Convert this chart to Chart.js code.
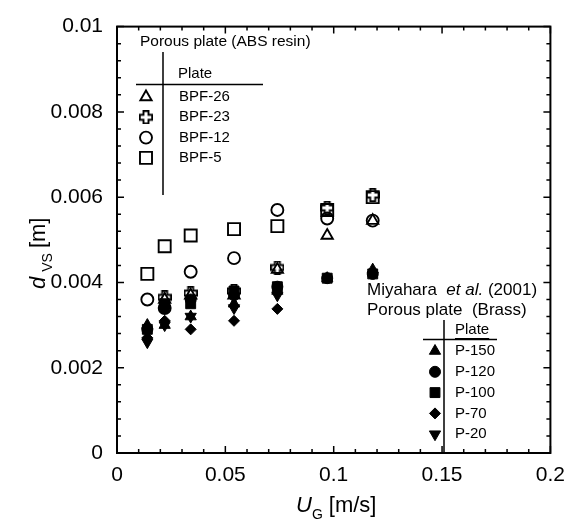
<!DOCTYPE html>
<html>
<head>
<meta charset="utf-8">
<script src="https://cdn.jsdelivr.net/npm/chart.js@4.4.0/dist/chart.umd.min.js"></script>
<style>
html,body{margin:0;padding:0;background:#fff;}
#wrap{width:575px;height:527px;position:relative;}
</style>
</head>
<body>
<div id="wrap"><canvas id="myChart"></canvas></div>
<script>
// gas velocity columns [m/s]
const ugValues = [0.014, 0.022, 0.034, 0.054, 0.074, 0.097, 0.118];

// porous plate (ABS resin), d_VS [m]
const bpf26 = [null, 0.0036, 0.0037, 0.0037, 0.0043, 0.0051, 0.00545];
const bpf23 = [null, 0.00365, 0.00375, 0.0038, 0.00435, 0.00575, 0.00605];
const bpf12 = [0.0036, 0.0034, 0.00425, 0.00457, 0.0057, 0.0055, 0.00545];
const bpf5 = [0.0042, 0.00485, 0.0051, 0.00525, 0.00532, 0.0057, 0.006];

// Miyahara et al. (2001), porous plate (Brass)
const p150 = [0.0030, 0.0030, 0.0032, 0.0035, 0.0038, 0.0041, 0.0043];
const p120 = [0.0029, 0.0034, 0.0036, 0.0037, 0.0039, 0.0041, 0.0042];
const p100 = [0.0029, 0.0035, 0.0035, 0.0038, 0.0039, 0.0041, 0.0042];
const p70 = [0.0027, 0.0031, 0.0029, 0.0031, 0.00338, null, null];
const p20 = [0.0026, 0.0030, 0.0032, 0.0034, 0.0037, null, null];

const absLabels = ['BPF-26', 'BPF-23', 'BPF-12', 'BPF-5'];
const brassLabels = ['P-150', 'P-120', 'P-100', 'P-70', 'P-20'];

const xTicks = [0, 0.05, 0.1, 0.15, 0.2];
const yTicks = [0, 0.002, 0.004, 0.006, 0.008, 0.01];

// outlined plus marker (no such style in chart.js)
function plusMarker(){
    const c = document.createElement('canvas');
    c.width = 14; c.height = 14;
    const g = c.getContext('2d');
    const a = 2.5, b = 6.2, m = 7;
    g.beginPath();
    g.moveTo(m-a, m-b); g.lineTo(m+a, m-b); g.lineTo(m+a, m-a); g.lineTo(m+b, m-a);
    g.lineTo(m+b, m+a); g.lineTo(m+a, m+a); g.lineTo(m+a, m+b); g.lineTo(m-a, m+b);
    g.lineTo(m-a, m+a); g.lineTo(m-b, m+a); g.lineTo(m-b, m-a); g.lineTo(m-a, m-a);
    g.closePath();
    g.lineWidth = 1.9;
    g.strokeStyle = '#000';
    g.stroke();
    return c;
}
const plusImg = plusMarker();

function pts(vals){
    let out = [];
    for(let i=0; i<vals.length; i++){
        if(vals[i] !== null) out.push({x: ugValues[i], y: vals[i]});
    }
    return out;
}

function ds(label, vals, style, radius, filled, rotation){
    return {
        label,
        data: pts(vals),
        pointStyle: style,
        pointRadius: radius,
        pointHoverRadius: radius,
        pointRotation: rotation || 0,
        pointBorderWidth: filled ? 1 : 1.9,
        pointBorderColor: '#000',
        pointBackgroundColor: filled ? '#000' : 'rgba(0,0,0,0)',
        showLine: false
    };
}

const brassSets = [
    ds('P-150', p150, 'triangle', 6.5, true),
    ds('P-120', p120, 'circle', 5.5, true),
    ds('P-100', p100, 'rect', 7, true),
    ds('P-70', p70, 'rectRot', 5.5, true),
    ds('P-20', p20, 'triangle', 6.5, true, 180)
];
const absSets = [
    ds('BPF-26', bpf26, 'triangle', 6.5, false),
    ds('BPF-23', bpf23, plusImg, 7, false),
    ds('BPF-12', bpf12, 'circle', 6, false),
    ds('BPF-5', bpf5, 'rect', 8.5, false)
];

const FONT = 'Liberation Sans, Arial, sans-serif';

function marker(ctx, d, x, y){
    ctx.save();
    ctx.fillStyle = d.pointBackgroundColor;
    ctx.strokeStyle = '#000';
    ctx.lineWidth = d.pointBorderWidth;
    Chart.helpers.drawPoint(ctx, {pointStyle: d.pointStyle, radius: d.pointRadius, rotation: d.pointRotation, borderWidth: d.pointBorderWidth}, x, y);
    ctx.restore();
}

// ticks pointing inward on all four sides + frame
const frameTicks = {
    id: 'frameTicks',
    afterDatasetsDraw(chart){
        const ctx = chart.ctx, a = chart.chartArea;
        const xs = chart.scales.x, ys = chart.scales.y;
        ctx.save();
        ctx.strokeStyle = '#000';
        ctx.lineWidth = 1.5;
        ctx.beginPath();
        for(let i=0; i<=20; i++){
            const v = i*0.01;
            const px = xs.getPixelForValue(v);
            const len = (i % 5 === 0) ? 7 : 4;
            ctx.moveTo(px, a.bottom); ctx.lineTo(px, a.bottom - len);
            ctx.moveTo(px, a.top); ctx.lineTo(px, a.top + len);
        }
        for(let i=0; i<=25; i++){
            const v = i*0.0004;
            const py = ys.getPixelForValue(v);
            const len = (i % 5 === 0) ? 7 : 4;
            ctx.moveTo(a.left, py); ctx.lineTo(a.left + len, py);
            ctx.moveTo(a.right, py); ctx.lineTo(a.right - len, py);
        }
        ctx.stroke();
        ctx.lineWidth = 2;
        ctx.strokeRect(a.left, a.top, a.right - a.left, a.bottom - a.top);
        ctx.restore();
    }
};

// axis titles and the two in-plot legends
const annotations = {
    id: 'annotations',
    afterDraw(chart){
        const ctx = chart.ctx;
        ctx.save();
        ctx.fillStyle = '#000';
        ctx.strokeStyle = '#000';
        ctx.textBaseline = 'alphabetic';
        ctx.textAlign = 'left';

        // x title: U_G [m/s]
        let x = 296, y = 512;
        ctx.font = 'italic 22px ' + FONT;
        ctx.fillText('U', x, y);
        x += ctx.measureText('U').width;
        ctx.font = '14px ' + FONT;
        ctx.fillText('G', x, y + 7);
        x += ctx.measureText('G').width + 6;
        ctx.font = '22px ' + FONT;
        ctx.fillText('[m/s]', x, y);

        // y title: d_VS [m]
        ctx.save();
        ctx.translate(45, 289);
        ctx.rotate(-Math.PI/2);
        x = 0;
        ctx.font = 'italic 22px ' + FONT;
        ctx.fillText('d', x, 0);
        x += ctx.measureText('d').width + 5;
        ctx.font = '14px ' + FONT;
        ctx.fillText('VS', x, 7);
        x += ctx.measureText('VS').width + 5;
        ctx.font = '22px ' + FONT;
        ctx.fillText('[m]', x, 0);
        ctx.restore();

        // legend 1: ABS resin
        ctx.textBaseline = 'middle';
        ctx.font = '15.5px ' + FONT;
        ctx.fillText('Porous plate (ABS resin)', 140, 42);
        ctx.font = '15px ' + FONT;
        ctx.fillText('Plate', 178, 74);
        ctx.lineWidth = 1.5;
        ctx.beginPath();
        ctx.moveTo(136, 84.5); ctx.lineTo(263, 84.5);
        ctx.moveTo(163, 52); ctx.lineTo(163, 195);
        ctx.stroke();
        for(let i=0; i<absSets.length; i++){
            const ry = 97 + i*20.3;
            marker(ctx, absSets[i], 146, ry);
            ctx.fillStyle = '#000';
            ctx.font = '15px ' + FONT;
            ctx.fillText(absLabels[i], 179, ry);
        }

        // legend 2: Miyahara et al. (2001)
        ctx.font = '17px ' + FONT;
        x = 367;
        ctx.fillText('Miyahara  ', x, 290);
        x += ctx.measureText('Miyahara  ').width;
        ctx.font = 'italic 17px ' + FONT;
        ctx.fillText('et al.', x, 290);
        x += ctx.measureText('et al.').width;
        ctx.font = '17px ' + FONT;
        ctx.fillText(' (2001)', x, 290);
        ctx.fillText('Porous plate  (Brass)', 367, 310);
        ctx.font = '15px ' + FONT;
        ctx.fillText('Plate', 455, 330);
        let w = ctx.measureText('Plate').width;
        ctx.lineWidth = 1.2;
        ctx.beginPath();
        ctx.moveTo(455, 338.5); ctx.lineTo(455 + w, 338.5);
        ctx.stroke();
        ctx.lineWidth = 1.5;
        ctx.beginPath();
        ctx.moveTo(423, 339.5); ctx.lineTo(497, 339.5);
        ctx.moveTo(444, 320); ctx.lineTo(444, 453);
        ctx.stroke();
        for(let i=0; i<brassSets.length; i++){
            const ry = 351 + i*20.8;
            marker(ctx, brassSets[i], 435, ry);
            ctx.fillStyle = '#000';
            ctx.font = '15px ' + FONT;
            ctx.fillText(brassLabels[i], 455, ry);
        }
        ctx.restore();
    }
};

new Chart(document.getElementById('myChart'), {
    type: 'scatter',
    data: { datasets: absSets.concat(brassSets) },
    options: {
        responsive: true,
        maintainAspectRatio: false,
        animation: false,
        layout: { padding: { top: 15, right: 22, left: 0, bottom: 0 } },
        plugins: { legend: { display: false }, tooltip: { enabled: false } },
        scales: {
            x: {
                type: 'linear', min: 0, max: 0.2,
                afterBuildTicks: s => { s.ticks = xTicks.map(v => ({value: v})); },
                afterFit: s => { s.height = 74; },
                grid: { drawOnChartArea: false, drawTicks: false },
                border: { display: false },
                ticks: {
                    padding: 10, color: '#000', maxRotation: 0,
                    font: { family: FONT, size: 21 },
                    callback: v => String(+v.toFixed(3))
                }
            },
            y: {
                type: 'linear', min: 0, max: 0.01,
                afterBuildTicks: s => { s.ticks = yTicks.map(v => ({value: v})); },
                afterFit: s => { s.width = 117; },
                grid: { drawOnChartArea: false, drawTicks: false },
                border: { display: false },
                ticks: {
                    padding: 14, color: '#000',
                    font: { family: FONT, size: 21 },
                    callback: v => String(+v.toFixed(4))
                }
            }
        }
    },
    plugins: [frameTicks, annotations]
});
</script>
</body>
</html>
